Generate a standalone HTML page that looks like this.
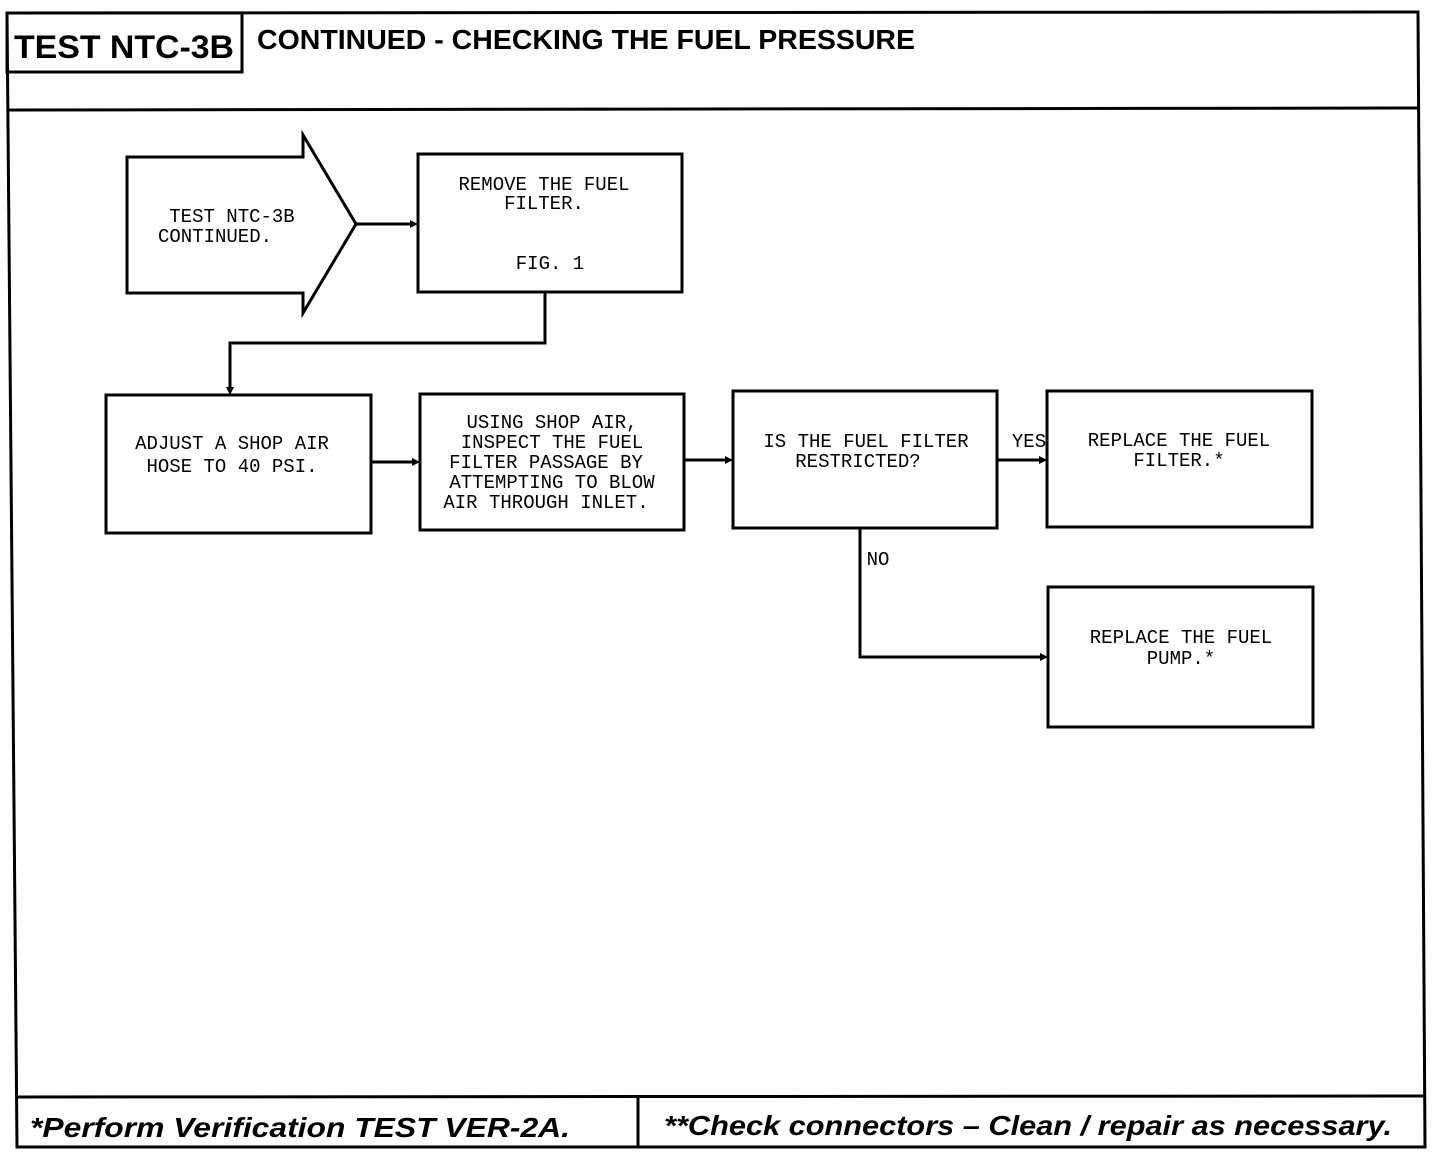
<!DOCTYPE html>
<html><head><style>html,body{margin:0;padding:0;background:#fff}svg{display:block}</style></head><body>
<svg width="1440" height="1158" viewBox="0 0 1440 1158" xmlns="http://www.w3.org/2000/svg">
<g fill="none" stroke="#000" stroke-width="3">
<polygon points="7,13 1418,12 1425,1147 17,1147"/>
<line x1="7" y1="110" x2="1418" y2="108"/>
<rect x="7" y="13" width="235" height="59"/>
<line x1="16" y1="1097" x2="1425" y2="1096"/>
<line x1="638" y1="1097" x2="638" y2="1147"/>
<polygon points="127,157 303,157 303,135 356,224 303,313 303,293 127,293"/>
<rect x="418" y="154" width="264" height="138"/>
<rect x="106" y="395" width="265" height="138"/>
<rect x="420" y="394" width="264" height="136"/>
<rect x="733" y="391" width="264" height="137"/>
<rect x="1047" y="391" width="265" height="136"/>
<rect x="1048" y="587" width="265" height="140"/>
<polyline points="356,224 414,224"/>
<polyline points="545,292 545,343 230,343 230,391"/>
<line x1="371" y1="462" x2="416" y2="462"/>
<line x1="684" y1="460" x2="729" y2="460"/>
<line x1="997" y1="460" x2="1043" y2="460"/>
<polyline points="860,528 860,657 1044,657"/>
</g>
<g fill="#000">
<polygon points="418,224 410,220 410,228"/>
<polygon points="230,395 226,387 234,387"/>
<polygon points="420,462 412,458 412,466"/>
<polygon points="733,460 725,456 725,464"/>
<polygon points="1047,460 1039,456 1039,464"/>
<polygon points="1048,657 1040,653 1040,661"/>
</g>
<g font-family="Liberation Sans, sans-serif" font-weight="bold" fill="#000">
<text x="14" y="58" font-size="32" textLength="220" lengthAdjust="spacingAndGlyphs">TEST NTC-3B</text>
<text x="257" y="49" font-size="28" textLength="658" lengthAdjust="spacingAndGlyphs">CONTINUED -  CHECKING THE FUEL PRESSURE</text>
<text x="30" y="1137" font-size="28" font-style="italic" textLength="540" lengthAdjust="spacingAndGlyphs">*Perform  Verification TEST VER-2A.</text>
<text x="664" y="1135" font-size="28" font-style="italic" textLength="728" lengthAdjust="spacingAndGlyphs">**Check connectors – Clean / repair  as  necessary.</text>
</g>
<g font-family="Liberation Mono, monospace" font-size="19" fill="#000" text-anchor="middle">
<text x="232" y="222">TEST NTC-3B</text>
<text x="215" y="242">CONTINUED.</text>
<text x="544" y="190">REMOVE THE FUEL</text>
<text x="544" y="209">FILTER.</text>
<text x="550" y="269">FIG. 1</text>
<text x="232" y="449">ADJUST A SHOP AIR</text>
<text x="232" y="472">HOSE TO 40 PSI.</text>
<text x="552" y="428">USING SHOP AIR,</text>
<text x="552" y="448">INSPECT THE FUEL</text>
<text x="546" y="468">FILTER PASSAGE BY</text>
<text x="552" y="488">ATTEMPTING TO BLOW</text>
<text x="546" y="508">AIR THROUGH INLET.</text>
<text x="866" y="447">IS THE FUEL FILTER</text>
<text x="858" y="467">RESTRICTED?</text>
<text x="1179" y="446">REPLACE THE FUEL</text>
<text x="1179" y="466">FILTER.*</text>
<text x="1181" y="643">REPLACE THE FUEL</text>
<text x="1181" y="664">PUMP.*</text>
<text x="1029" y="447">YES</text>
<text x="878" y="565">NO</text>
</g>
</svg>
</body></html>
